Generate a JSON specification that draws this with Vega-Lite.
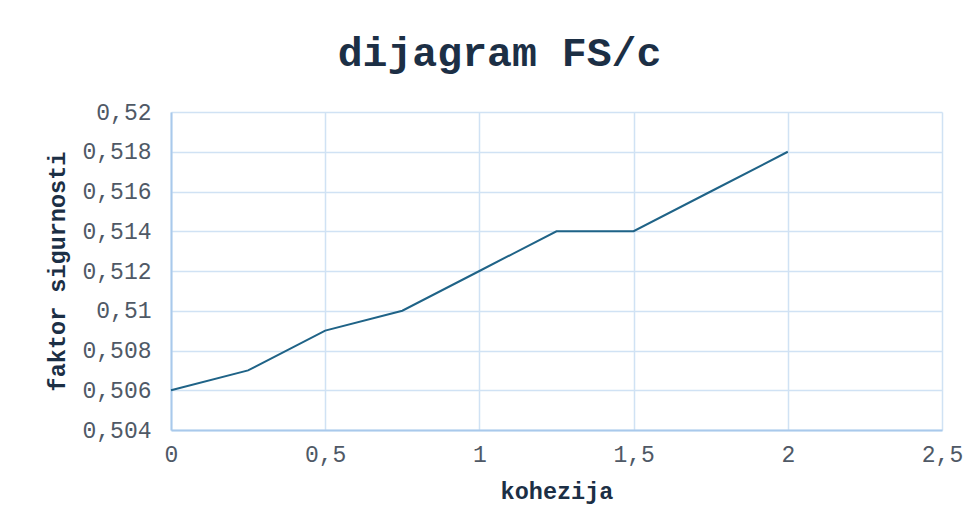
{
  "$schema": "https://vega.github.io/schema/vega-lite/v6.json",
  "width": 771,
  "height": 318,
  "autosize": {"type": "none"},
  "padding": {"left": 171, "top": 112, "right": 37, "bottom": 101},
  "background": "white",
  "title": {
    "text": "dijagram FS/c",
    "font": "Liberation Mono",
    "fontSize": 41.5,
    "fontWeight": "bold",
    "color": "#1c2f45",
    "anchor": "middle",
    "dx": -57,
    "offset": 27
  },
  "data": {
    "values": [
      {"c": 0, "fs": 0.506},
      {"c": 0.25, "fs": 0.507},
      {"c": 0.5, "fs": 0.509},
      {"c": 0.75, "fs": 0.51},
      {"c": 1, "fs": 0.512},
      {"c": 1.25, "fs": 0.514},
      {"c": 1.5, "fs": 0.514},
      {"c": 1.75, "fs": 0.516},
      {"c": 2, "fs": 0.518}
    ]
  },
  "mark": {"type": "line", "color": "#1f6387", "strokeWidth": 2},
  "encoding": {
    "x": {
      "field": "c",
      "type": "quantitative",
      "scale": {"domain": [0, 2.5], "nice": false},
      "axis": {
        "title": "kohezija",
        "values": [0, 0.5, 1, 1.5, 2, 2.5],
        "labelExpr": "replace(format(datum.value, '~g'), '.', ',')",
        "labelPadding": 13,
        "titlePadding": 13
      }
    },
    "y": {
      "field": "fs",
      "type": "quantitative",
      "scale": {"domain": [0.504, 0.52], "nice": false, "zero": false},
      "axis": {
        "title": "faktor sigurnosti",
        "values": [0.504, 0.506, 0.508, 0.51, 0.512, 0.514, 0.516, 0.518, 0.52],
        "labelExpr": "replace(format(datum.value, '~g'), '.', ',')",
        "labelPadding": 20,
        "titlePadding": 12
      }
    }
  },
  "config": {
    "view": {"stroke": null},
    "axis": {
      "labelFont": "Liberation Mono",
      "labelFontSize": 23,
      "labelColor": "#4f5966",
      "titleFont": "Liberation Mono",
      "titleFontSize": 23.5,
      "titleFontWeight": "bold",
      "titleColor": "#1c2f45",
      "gridColor": "#d0e2f4",
      "gridWidth": 1.5,
      "domainColor": "#a9c9eb",
      "domainWidth": 2,
      "ticks": false,
      "labelBound": false,
      "labelFlush": false,
      "labelOverlap": false
    }
  }
}
